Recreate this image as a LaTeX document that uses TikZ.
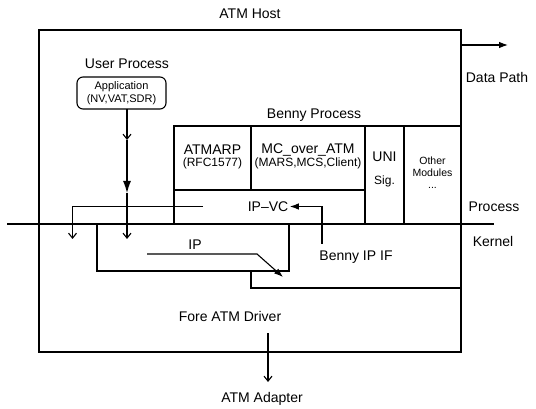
\documentclass[tikz,border=0pt]{standalone}
\usepackage{fontspec}
\setmainfont{Liberation Sans}
\usetikzlibrary{arrows.meta}
\begin{document}
\begin{tikzpicture}[x=1pt,y=-1pt,line width=1.1pt,
  lbl/.style={font=\fontsize{14}{16}\selectfont,inner sep=0pt},
  cell lbl/.style={font=\fontsize{12}{14}\selectfont,inner sep=0pt},
  open tip/.style={-{Straight Barb[length=5pt,width=8pt]}},
  solid tip/.style={-{Latex[length=9pt,width=6.5pt]}},
  big tip/.style={-{Latex[length=12pt,width=8pt]}}]
  \useasboundingbox (0,0) rectangle (536,409);
  % host frame and process/kernel line
  \coordinate (host nw) at (39,30);
  \coordinate (host se) at (461,352);
  \draw (host nw) rectangle (host se);
  \coordinate (pl w) at (7,224);
  \coordinate (pl e) at (494,224);
  \draw (pl w)--(pl e);
  \node[lbl] (host) at (250,14) {ATM Host};
  \node[lbl] (process) at (494,207) {Process};
  \node[lbl] (kernel) at (493,241) {Kernel};
  % user process
  \node[lbl] (user) at (127,64) {User Process};
  \node[draw,rounded corners=6pt,minimum width=89pt,minimum height=32pt,inner sep=0pt,
    align=center,font=\fontsize{11}{13}\selectfont] (app) at (121.5,93) {Application\\(NV,VAT,SDR)};
  % benny process
  \node[lbl] (benny) at (314,115) {Benny Process};
  \draw (174,126) rectangle (461,224);
  \draw (251,126)--(251,190);
  \draw (174,190)--(365,190);
  \draw (365,126)--(365,224);
  \draw (404,126)--(404,224);
  \node[lbl] (atmarp) at (212.5,150) {ATMARP};
  \node[cell lbl] (rfc) at (212.5,163.5) {(RFC1577)};
  \node[lbl] (mc) at (308,150) {MC\_over\_ATM};
  \node[cell lbl] (mars) at (308,163.5) {(MARS,MCS,Client)};
  \node[lbl] (uni) at (384.5,157) {UNI};
  \node[cell lbl] (sig) at (384.5,181) {Sig.};
  \node[cell lbl,font=\fontsize{10.5}{12}\selectfont,align=center] (other) at (432.5,173) {Other\\Modules\\...};
  \node[lbl] (ipvc) at (268,206.5) {IP--VC};
  % kernel side
  \draw (97,224) rectangle (289,271);
  \draw (251,271)--(251,288)--(461,288);
  \node[lbl] (ip) at (195,245) {IP};
  \node[lbl] (ipif) at (356,257) {Benny IP IF};
  \node[lbl] (driver) at (230,316) {Fore ATM Driver};
  \node[lbl] (adapter) at (262,399) {ATM Adapter};
  \node[lbl] (data) at (497,77) {Data Path};
  % data paths
  \coordinate (a1) at (127,109);
  \coordinate (a2) at (127,140);
  \coordinate (a3) at (127,193);
  \coordinate (a4) at (127,239);
  \draw[open tip] (a1)--(a2);
  \draw[big tip] (a2)--(a3);
  \draw[open tip] (a3)--(a4);
  \coordinate (l1) at (203,206.5);
  \coordinate (l2) at (72.5,239);
  \draw[open tip] (l1) -| (l2);
  \coordinate (v1) at (322,244);
  \draw[solid tip] (v1) |- ([xshift=1pt]ipvc.east);
  \coordinate (ip1) at (147,254);
  \coordinate (ip2) at (257,254);
  \coordinate (ip3) at (283,277);
  \draw[solid tip] (ip1)--(ip2)--(ip3);
  \coordinate (d1) at (461,45);
  \coordinate (d2) at (508,45);
  \draw[solid tip] (d1)--(d2);
  \coordinate (ad1) at (268,333);
  \coordinate (ad2) at (268,382);
  \draw[open tip] (ad1)--(ad2);
\end{tikzpicture}
\end{document}
